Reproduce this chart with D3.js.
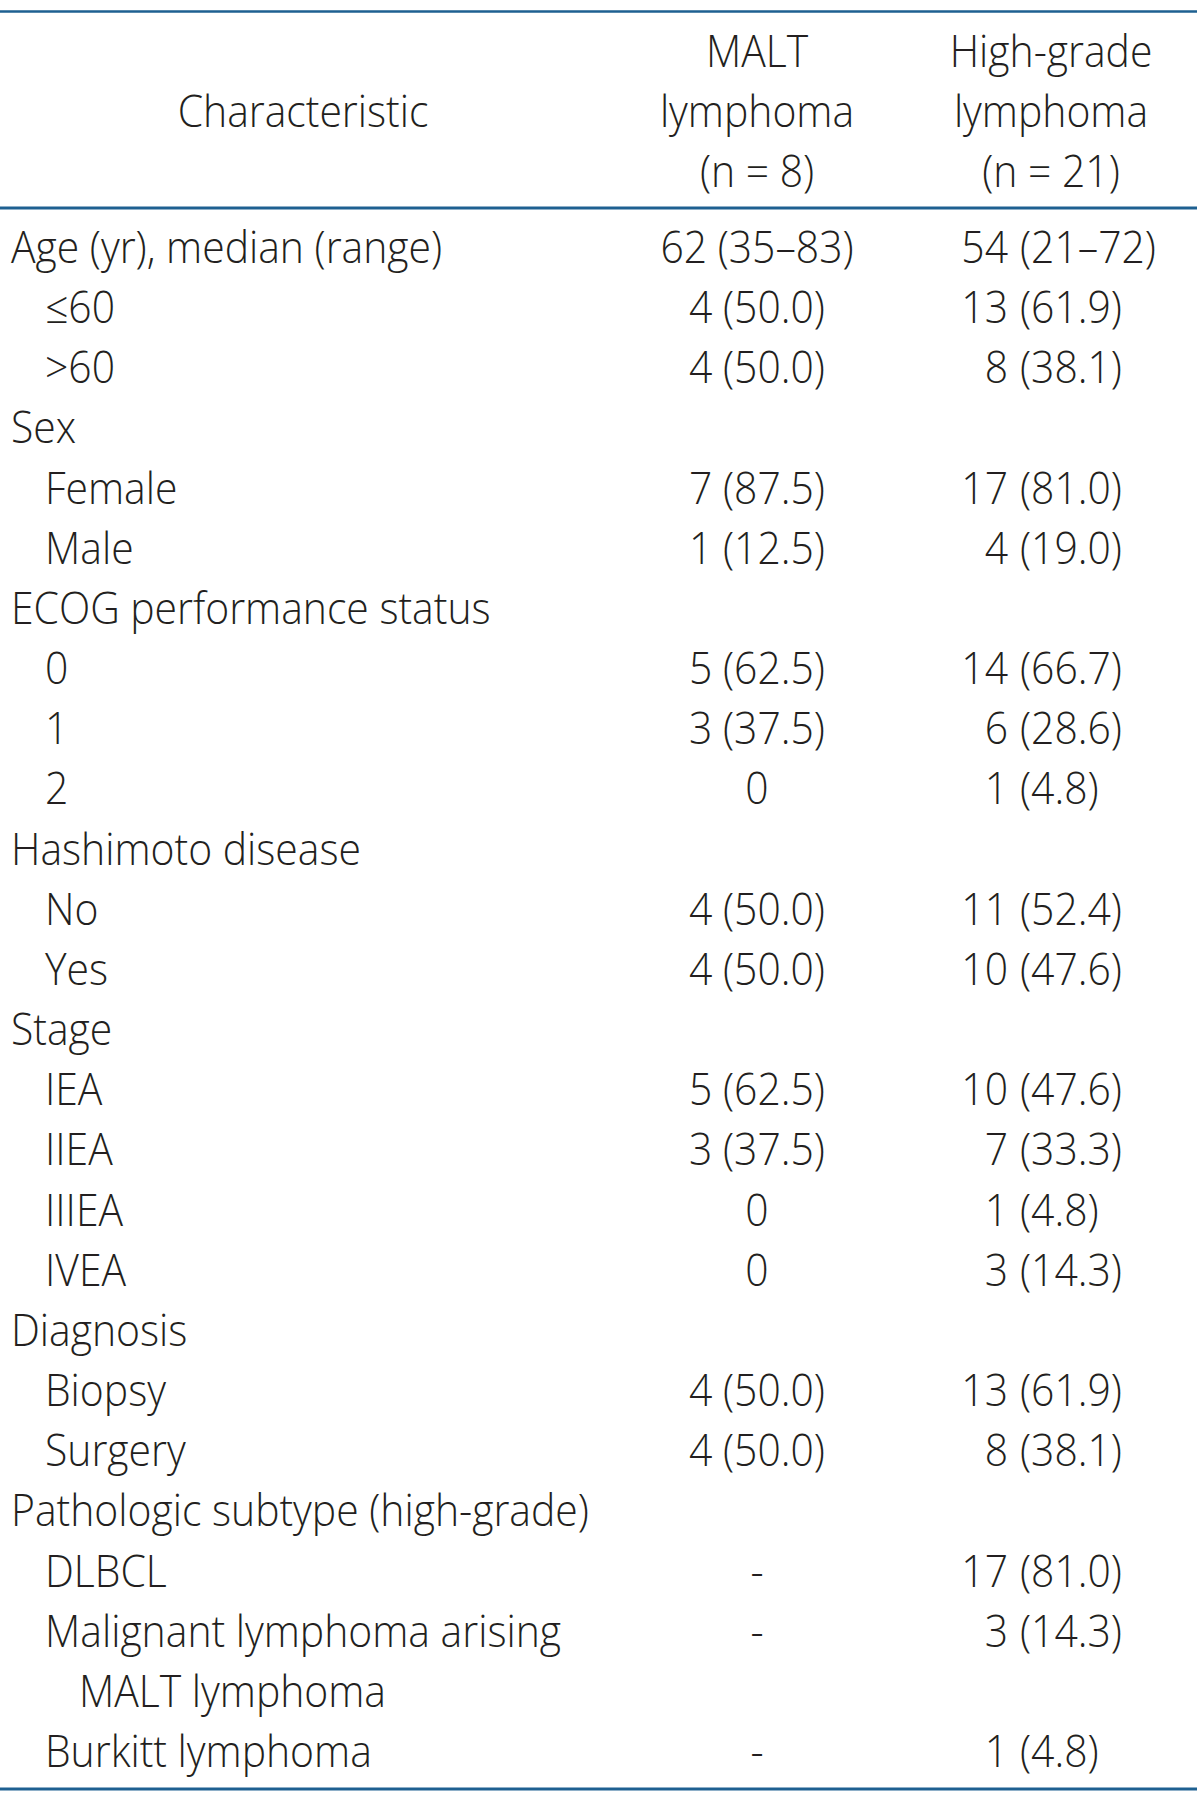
<!DOCTYPE html>
<html>
<head>
<meta charset="utf-8">
<script src="https://cdn.jsdelivr.net/npm/d3@7"></script>
<style>
  html, body { margin: 0; padding: 0; background: #fff; }
  svg { display: block; }
  text { font-family: "Open Sans", "Noto Sans", sans-serif; font-weight: 300; fill: #231f20; }
</style>
</head>
<body>
<svg id="chart" width="1200" height="1794"></svg>
<script>
// ---------- data ----------
const headerChar = "Characteristic";
const headerMalt = ["MALT", "lymphoma", "(n = 8)"];
const headerHigh = ["High-grade", "lymphoma", "(n = 21)"];

const labels = [
  "Age (yr), median (range)", "≤60", ">60",
  "Sex", "Female", "Male",
  "ECOG performance status", "0", "1", "2",
  "Hashimoto disease", "No", "Yes",
  "Stage", "IEA", "IIEA", "IIIEA", "IVEA",
  "Diagnosis", "Biopsy", "Surgery",
  "Pathologic subtype (high-grade)", "DLBCL", "Malignant lymphoma arising", "MALT lymphoma", "Burkitt lymphoma"
];
const indentLevel = [0,1,1, 0,1,1, 0,1,1,1, 0,1,1, 0,1,1,1,1, 0,1,1, 0,1,1,2,1];
const maltValues = [
  "62 (35–83)", "4 (50.0)", "4 (50.0)",
  "", "7 (87.5)", "1 (12.5)",
  "", "5 (62.5)", "3 (37.5)", "0",
  "", "4 (50.0)", "4 (50.0)",
  "", "5 (62.5)", "3 (37.5)", "0", "0",
  "", "4 (50.0)", "4 (50.0)",
  "", "-", "-", "", "-"
];
const highCounts = [
  "54", "13", "8",
  "", "17", "4",
  "", "14", "6", "1",
  "", "11", "10",
  "", "10", "7", "1", "3",
  "", "13", "8",
  "", "17", "3", "", "1"
];
const highPercents = [
  "(21–72)", "(61.9)", "(38.1)",
  "", "(81.0)", "(19.0)",
  "", "(66.7)", "(28.6)", "(4.8)",
  "", "(52.4)", "(47.6)",
  "", "(47.6)", "(33.3)", "(4.8)", "(14.3)",
  "", "(61.9)", "(38.1)",
  "", "(81.0)", "(14.3)", "", "(4.8)"
];

// ---------- layout ----------
const fontSize = 44;
const lineColor = "#1e6091";
const svg = d3.select("#chart");

// horizontal condensing factor, fitted to the reference width of the longest label
const probe = svg.append("text").attr("font-size", fontSize).text(labels[21]);
const k = 578 / probe.node().getComputedTextLength();
probe.remove();

const y = d3.scaleLinear().domain([0, labels.length - 1]).range([247, 1751]);
const indentX = d3.scaleLinear().domain([0, 1, 2]).range([11, 45, 79]);
const colMalt = 757;
const highAnchor = 1008;
const highGap = 12;
const baselineOffset = 16;

function put(g, x, yy, str, anchor) {
  return g.append("text")
    .attr("font-size", fontSize)
    .attr("text-anchor", anchor || "start")
    .attr("transform", `translate(${x},${yy}) scale(${k},1)`)
    .text(str);
}

// rules
const rules = [11.5, 208, 1789];
svg.selectAll("line.rule").data(rules).enter().append("line")
  .attr("class", "rule")
  .attr("x1", 0).attr("x2", 1197)
  .attr("y1", d => d).attr("y2", d => d)
  .attr("stroke", lineColor)
  .attr("stroke-width", d => d === 11.5 ? 2.5 : 3);

// header
const gh = svg.append("g");
put(gh, 303, 127, headerChar, "middle");
const hy = d3.scaleLinear().domain([0, 2]).range([67, 187]);
headerMalt.forEach((s, i) => put(gh, colMalt, hy(i), s, "middle"));
headerHigh.forEach((s, i) => put(gh, 1051, hy(i), s, "middle"));

// body
const gb = svg.append("g");
labels.forEach((lab, i) => {
  const yy = y(i) + baselineOffset;
  put(gb, indentX(indentLevel[i]), yy, lab, "start");
  if (maltValues[i]) put(gb, colMalt, yy, maltValues[i], "middle");
  if (highCounts[i]) put(gb, highAnchor, yy, highCounts[i], "end");
  if (highPercents[i]) put(gb, highAnchor + highGap, yy, highPercents[i], "start");
});
</script>
</body>
</html>
